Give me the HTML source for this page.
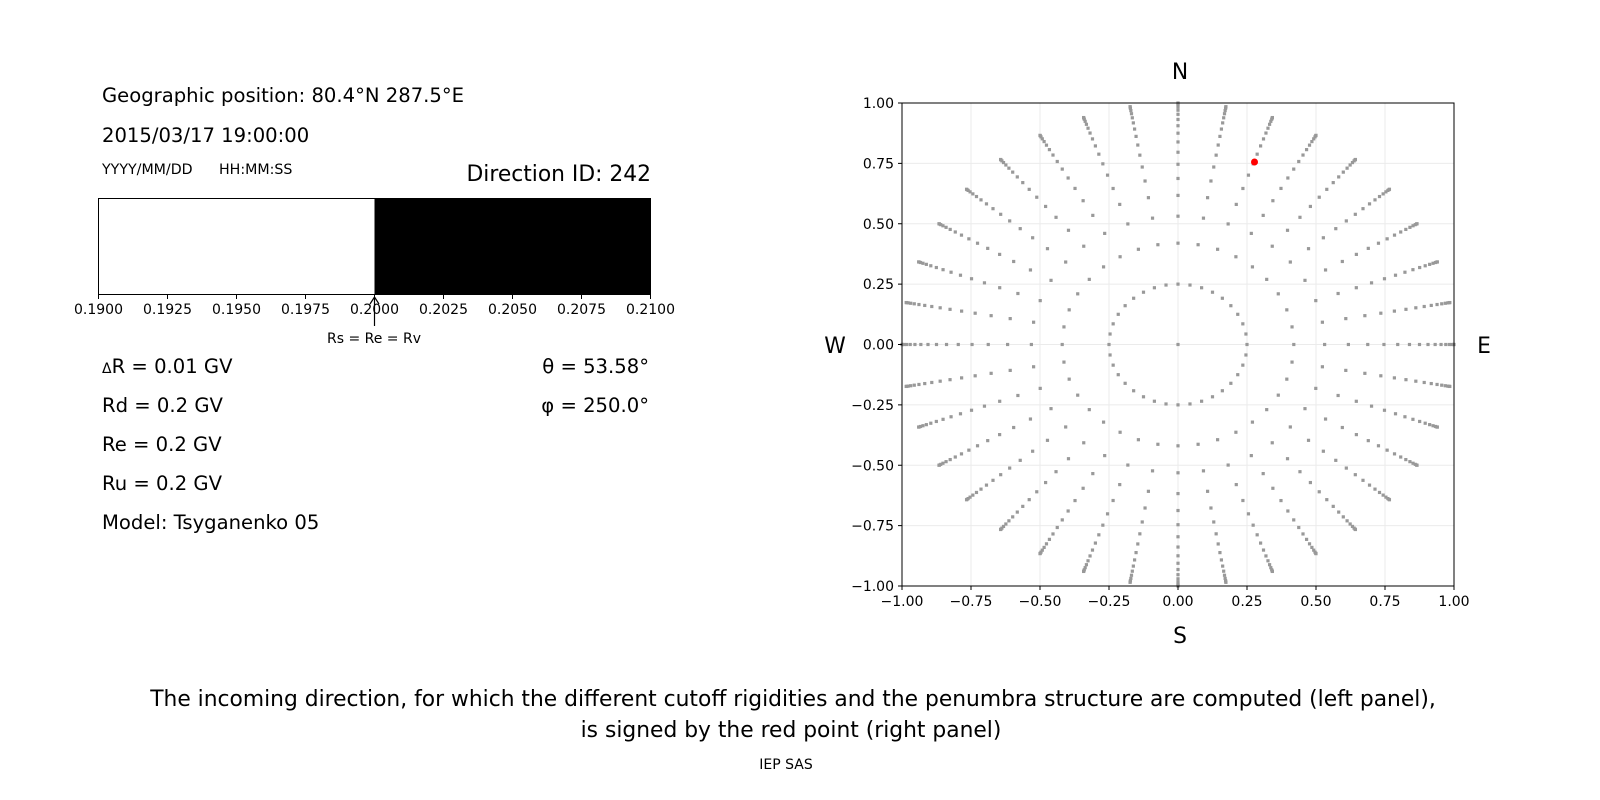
<!DOCTYPE html>
<html><head><meta charset="utf-8"><style>
html,body{margin:0;padding:0;background:#fff;}
svg{display:block;font-family:"DejaVu Sans","Liberation Sans",sans-serif;}
</style></head><body>
<svg id="s" width="1600" height="800" viewBox="0 0 1600 800" xmlns="http://www.w3.org/2000/svg">
<rect width="1600" height="800" fill="#fff"/>
<g font-size="19.6" fill="#000">
<text x="102" y="102">Geographic position: 80.4°N 287.5°E</text>
<text x="102" y="142">2015/03/17 19:00:00</text>
<text x="102" y="174" font-size="14.2">YYYY/MM/DD</text>
<text x="219" y="174" font-size="14.2">HH:MM:SS</text>
<text x="651" y="181" font-size="21.8" text-anchor="end">Direction ID: 242</text>
<text x="102" y="373"><tspan font-size="14">Δ</tspan>R = 0.01 GV</text>
<text x="102" y="412">Rd = 0.2 GV</text>
<text x="102" y="451">Re = 0.2 GV</text>
<text x="102" y="490">Ru = 0.2 GV</text>
<text x="102" y="529">Model: Tsyganenko 05</text>
<text x="649" y="373" text-anchor="end">θ = 53.58°</text>
<text x="649" y="412" text-anchor="end">φ = 250.0°</text>
</g>
<rect x="374.5" y="198" width="276.5" height="96" fill="#000"/>
<rect x="98.5" y="198.5" width="552" height="96" fill="none" stroke="#000" stroke-width="1"/>
<g id="bt" font-size="14" text-anchor="middle"></g>
<line x1="374.5" y1="297" x2="374.5" y2="326" stroke="#000" stroke-width="1.2"/>
<path d="M370,304 L374.5,297 L379,304" fill="none" stroke="#000" stroke-width="1.2"/>
<text x="374" y="343" font-size="14" text-anchor="middle">Rs = Re = Rv</text>

<g id="grid" stroke="#ebebeb" stroke-width="1"></g>
<g id="dots" fill="#999"></g>
<circle cx="1254.5" cy="162" r="3.5" fill="#f00"/>
<rect x="902" y="103" width="552" height="483" fill="none" stroke="#000" stroke-width="1"/>
<g id="ticks" font-size="14"></g>
<g font-size="21.8">
<text x="1180" y="79" text-anchor="middle">N</text>
<text x="1180" y="643" text-anchor="middle">S</text>
<text x="835" y="353" text-anchor="middle">W</text>
<text x="1484" y="353" text-anchor="middle">E</text>
</g>
<g font-size="21.8" text-anchor="middle">
<text x="793" y="706">The incoming direction, for which the different cutoff rigidities and the penumbra structure are computed (left panel),</text>
<text x="791" y="737">is signed by the red point (right panel)</text>
</g>
<text x="786" y="769" font-size="14" text-anchor="middle">IEP SAS</text>
</svg>
<script>
var NS="http://www.w3.org/2000/svg";
function el(p,t,a,txt){var e=document.createElementNS(NS,t);for(var k in a)e.setAttribute(k,a[k]);if(txt!=null)e.textContent=txt;p.appendChild(e);return e;}
var bt=document.getElementById('bt');
for(var i=0;i<=8;i++){var v=0.19+i*0.0025;var x=98.5+i*69;
el(bt,'line',{x1:x,y1:294.5,x2:x,y2:299,stroke:'#000'});
el(bt,'text',{x:x,y:314},v.toFixed(4));}
function X(x){return 1178+276*x;}function Y(y){return 344.5-241.5*y;}
var g=document.getElementById('grid'),tk=document.getElementById('ticks');
for(var i=0;i<=8;i++){var v=-1+i*0.25;
el(g,'line',{x1:X(v),y1:103,x2:X(v),y2:586});
el(g,'line',{x1:902,y1:Y(v),x2:1454,y2:Y(v)});
el(tk,'line',{x1:X(v),y1:586,x2:X(v),y2:590,stroke:'#000'});
el(tk,'line',{x1:898,y1:Y(v),x2:902,y2:Y(v),stroke:'#000'});
var s=v.toFixed(2).replace('-','−');
el(tk,'text',{x:X(v),y:606,'text-anchor':'middle'},s);
el(tk,'text',{x:894,y:Y(v)+5,'text-anchor':'end'},s);}
var d=document.getElementById('dots');
function dot(x,y){el(d,'rect',{x:X(x)-1.6,y:Y(y)-1.6,width:3.2,height:3.2});}
dot(0,0);
var c0=Math.sqrt(1-0.0625);
for(var k=0;k<=16;k++){var c=c0*(1-k/16);var r=Math.sqrt(1-c*c);
for(var a=0;a<360;a+=10){var t=a*Math.PI/180;dot(r*Math.sin(t),r*Math.cos(t));}}
</script>
</body></html>
